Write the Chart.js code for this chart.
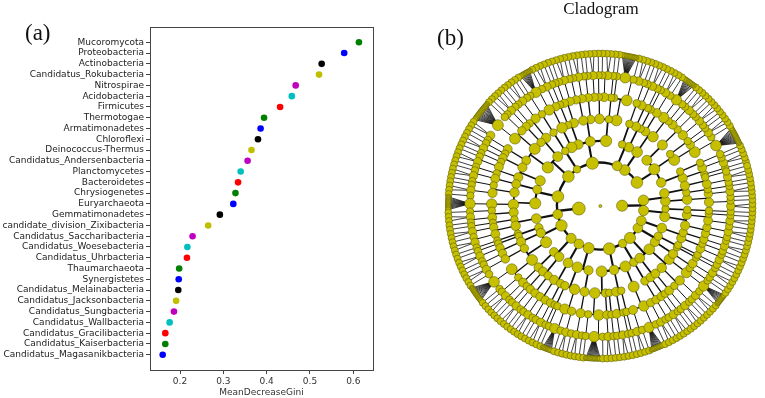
<!DOCTYPE html>
<html><head><meta charset="utf-8">
<script src="https://cdn.jsdelivr.net/npm/chart.js@4/dist/chart.umd.min.js"></script>
<style>
html,body{margin:0;padding:0;background:#fff;width:765px;height:398px;overflow:hidden;position:relative;}
#ca{position:absolute;left:0;top:0;}
#cb{position:absolute;left:430px;top:30px;}
.lbl{position:absolute;font-family:"Liberation Serif","DejaVu Serif",serif;color:#111;line-height:1;white-space:nowrap;}
</style></head><body>
<canvas id="ca" width="400" height="398"></canvas>
<canvas id="cb" width="335" height="355"></canvas>
<div class="lbl" style="left:25px;top:21px;font-size:23px;">(a)</div>
<div class="lbl" style="left:437px;top:26px;font-size:23px;">(b)</div>
<div class="lbl" style="left:601px;top:0px;font-size:17px;transform:translateX(-50%);">Cladogram</div>
<script>
// ---------- Panel (a) data ----------
const categories = [
  "Mucoromycota","Proteobacteria","Actinobacteria","Candidatus_Rokubacteria","Nitrospirae",
  "Acidobacteria","Firmicutes","Thermotogae","Armatimonadetes","Chloroflexi",
  "Deinococcus-Thermus","Candidatus_Andersenbacteria","Planctomycetes","Bacteroidetes","Chrysiogenetes",
  "Euryarchaeota","Gemmatimonadetes","candidate_division_Zixibacteria","Candidatus_Saccharibacteria","Candidatus_Woesebacteria",
  "Candidatus_Uhrbacteria","Thaumarchaeota","Synergistetes","Candidatus_Melainabacteria","Candidatus_Jacksonbacteria",
  "Candidatus_Sungbacteria","Candidatus_Wallbacteria","Candidatus_Gracilibacteria","Candidatus_Kaiserbacteria","Candidatus_Magasanikbacteria"
];
const meanDecreaseGini = [
  0.613,0.579,0.527,0.521,0.467,
  0.458,0.431,0.394,0.386,0.380,
  0.365,0.356,0.340,0.334,0.328,
  0.323,0.292,0.265,0.229,0.217,
  0.216,0.198,0.197,0.196,0.191,
  0.186,0.176,0.166,0.166,0.160
];
const xTickValues = [0.2,0.3,0.4,0.5,0.6];

// ---------- Panel (b) data: cladogram structure (number of children per node, level by level) ----------
const kingdomChildren = [17, 2];
const phylumChildren = [3,1,2,4,1,2,3,1,3,2,1,2,3,1,2,2,1, 2,2];
const classChildren = [2,2,1, 2, 2,1, 3,2,2,1, 1, 2,2, 2,1,3, 2, 2,1,2, 1,2, 2, 2,1, 3,2,1, 1, 2,2, 1,2, 2, 2,1, 1,2];
const orderChildren = [
  2,1,2,1,3, 2,1, 1,2,1, 2,1,3,1,2,2,1,2, 1, 2,1,2,
  1,3, 2,1,2,1,2,1, 2,1, 1,2,1,2,1, 2,1,2, 1,2,2,1,
  2,1, 1,2,1,3,1,2, 1, 2,1,2,1, 1,2,1, 2,2, 1,2,1,2
];
const familyChildren = [
  1,2,1,2,1,1,3,1,2,1, 1,2,1,1,2,1,3,1,1,2, 1,1,2,1,2,1,
  2,1,1,2,1,3,1,1,2,1, 2,1,1,1,2,1,2,1,3,1, 1,2,1,1,2,1,
  1,1,2,1,3,1,2,1,1,2, 1,2,1,1,1,2,1,3,1,2, 1,1,2,1,1,2,
  2,1,2,1,1,2,1,3,1,1, 2,1,1,2,1,1,2,1,2,1, 1,3,1,1,2,1
];
const genusChildren = [
  1,2,1,1,14,1,2,1,1,2, 1,1,2,1,1,10,1,2,1,1,
  2,1,1,2,1,12,1,1,2,1, 1,2,1,1,2,1,1,2,1,1,
  1,2,1,9,1,1,2,1,1,2, 1,1,16,2,1,1,2,1,1,2,
  1,1,2,1,1,2,1,11,1,2, 1,1,2,1,2,1,1,2,1,1,
  2,1,13,1,1,2,1,1,2,1, 1,2,1,1,2,1,1,8,1,2,
  1,2,1,1,12,1,2,1,1,2, 1,1,2,1,10,1,2,1,1,2,
  1,1,2,1,1,2,1,9,1,1, 2,1,1,2,1,1,2,1,1,2,
  1,2,1,1,2,1,1,2,1,1,2,1
];

// ---------- Panel (a) chart ----------
const mplColors = ['#008000','#0000ff','#000000','#bfbf00','#bf00bf','#00bfbf','#ff0000'];
const nCat = categories.length;
const framePlugin = {
  id:'frame',
  afterDraw(chart){
    const a = chart.chartArea, ctx = chart.ctx;
    ctx.save(); ctx.strokeStyle='#444'; ctx.lineWidth=1;
    ctx.strokeRect(Math.round(a.left)+0.5, Math.round(a.top)+0.5, Math.round(a.right-a.left), Math.round(a.bottom-a.top));
    ctx.restore();
  }
};
new Chart(document.getElementById('ca'), {
  type:'scatter',
  data:{datasets:[{
    data: categories.map((c,i)=>({x: meanDecreaseGini[i], y: nCat-1-i})),
    pointRadius:3.3, pointHoverRadius:3.3, pointBorderWidth:0,
    pointBackgroundColor: categories.map((c,i)=>mplColors[i%mplColors.length])
  }]},
  options:{
    responsive:false, animation:false, devicePixelRatio:1,
    plugins:{legend:{display:false}, tooltip:{enabled:false}},
    layout:{padding:{left:0,top:27,right:27,bottom:0}},
    scales:{
      x:{type:'linear', min:0.1307, max:0.6455,
        afterBuildTicks: ax => { ax.ticks = xTickValues.map(v=>({value:v})); },
        ticks:{callback:v=>Number(v).toFixed(1), font:{family:'DejaVu Sans', size:9}, color:'#333', padding:2, maxRotation:0, autoSkip:false},
        grid:{drawOnChartArea:false, drawTicks:true, tickLength:4, color:'#444'},
        border:{display:false},
        title:{display:true, text:'MeanDecreaseGini', font:{family:'DejaVu Sans', size:9}, color:'#333', padding:{top:0,bottom:0}},
        afterFit: ax => { ax.height = 28; }
      },
      y:{type:'linear', min:-1.42, max:30.42,
        afterBuildTicks: ax => { ax.ticks = categories.map((c,i)=>({value:nCat-1-i})); },
        ticks:{callback:v=>categories[nCat-1-v], font:{family:'DejaVu Sans', size:9}, color:'#222', padding:2, autoSkip:false},
        grid:{drawOnChartArea:false, drawTicks:true, tickLength:4, color:'#444'},
        border:{display:false},
        afterFit: ax => { ax.width = 150; }
      }
    }
  },
  plugins:[framePlugin]
});

// ---------- Panel (b) tree building & layout ----------
function buildTree(){
  const root = {depth:0, children:[], parent:null};
  let frontier = [];
  kingdomChildren.forEach(()=>{ const n={depth:1,children:[],parent:root}; root.children.push(n); frontier.push(n); });
  const levelCounts = [kingdomChildren, phylumChildren, classChildren, orderChildren, familyChildren, genusChildren];
  levelCounts.forEach(counts=>{
    const next = [];
    frontier.forEach((node,i)=>{
      const n = counts[i] !== undefined ? counts[i] : 1;
      for(let k=0;k<n;k++){ const c={depth:node.depth+1,children:[],parent:node}; node.children.push(c); next.push(c); }
    });
    frontier = next;
  });
  return root;
}
const root = buildTree();
const allNodes = [];
(function walk(n){ allNodes.push(n); n.children.forEach(walk); })(root);
const leaves = allNodes.filter(n=>!n.children.length && n.depth>0);
leaves.forEach(l=>{ l.w = l.parent.children.length > 4 ? 0.3 : 1; });
function sumW(n){ if(!n.children.length) return n.w||0; return n.children.reduce((s,c)=>s+sumW(c),0); }
const Wtot = sumW(root);
const lastK = root.children[root.children.length-1];
const wBefore = Wtot - sumW(lastK);
const unit = 2*Math.PI/Wtot;
let cum = 0;
const start = -(wBefore + sumW(lastK)/2)*unit;
leaves.forEach(l=>{ l.theta = start + (cum + l.w/2)*unit; cum += l.w; });
(function post(n){
  if(n.children.length){ n.children.forEach(post); n.theta=(n.children[0].theta+n.children[n.children.length-1].theta)/2; n.nLeaves=n.children.reduce((s,c)=>s+c.nLeaves,0); }
  else n.nLeaves=1;
})(root);
const RING = 22.7;
allNodes.forEach(n=>{ n.r = n.depth*RING; n.x = n.r*Math.cos(n.theta); n.y = n.r*Math.sin(n.theta); });
function nodeSize(n){
  if(n.depth===0) return 1.5;
  if(!n.children.length) return n.parent.children.length>4 ? 2.7 : 3.5;
  return Math.min(6.5, 3.8 + 0.6*Math.log(n.nLeaves));
}
const edgeWidth = [0, 2.4, 2.1, 1.7, 1.3, 1.0, 0.8];
const edgePlugin = {
  id:'edges',
  beforeDatasetsDraw(chart){
    const ctx=chart.ctx, xs=chart.scales.x, ys=chart.scales.y;
    const cx=xs.getPixelForValue(0), cy=ys.getPixelForValue(0);
    const k = xs.getPixelForValue(1)-cx;
    const P = (r,t)=>[cx + r*k*Math.cos(t), cy - r*k*Math.sin(t)];
    ctx.save(); ctx.strokeStyle='#111';
    allNodes.forEach(p=>{
      if(!p.children.length || p.depth===0) return;
      ctx.lineWidth = edgeWidth[p.depth] || 0.8;
      const rc = (p.depth+1)*RING;
      if(p.depth>=6){
        p.children.forEach(c=>{ const a=P(p.r,p.theta), b=P(c.r,c.theta); ctx.beginPath(); ctx.moveTo(a[0],a[1]); ctx.lineTo(b[0],b[1]); ctx.stroke(); });
      } else {
        const a=P(p.r,p.theta), b=P(rc,p.theta);
        ctx.beginPath(); ctx.moveTo(a[0],a[1]); ctx.lineTo(b[0],b[1]); ctx.stroke();
        if(p.children.length>1){
          const f=p.children[0].theta, l=p.children[p.children.length-1].theta;
          ctx.beginPath(); ctx.arc(cx,cy,rc*k,-f,-l,true); ctx.stroke();
        }
      }
    });
    ctx.restore();
  }
};
const drawNodes = allNodes.slice();
new Chart(document.getElementById('cb'), {
  type:'scatter',
  data:{datasets:[{
    data: drawNodes.map(n=>({x:n.x, y:n.y})),
    pointRadius: drawNodes.map(nodeSize),
    pointHoverRadius: drawNodes.map(nodeSize),
    pointBackgroundColor:'#c6c000',
    pointBorderColor:'rgba(80,80,0,0.85)',
    pointBorderWidth:0.6,
    clip:false
  }]},
  options:{
    responsive:false, animation:false, devicePixelRatio:1,
    plugins:{legend:{display:false}, tooltip:{enabled:false}},
    layout:{padding:0},
    scales:{
      x:{type:'linear', min:-170.5, max:164.5, display:false},
      y:{type:'linear', min:-179, max:176, display:false}
    }
  },
  plugins:[edgePlugin]
});
</script>
</body></html>
